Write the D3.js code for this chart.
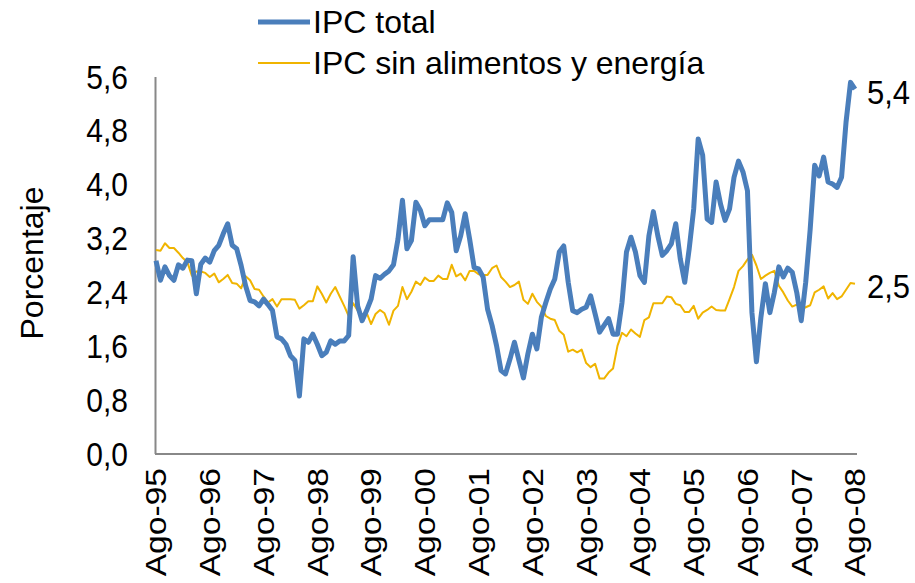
<!DOCTYPE html>
<html><head><meta charset="utf-8">
<script src="https://cdn.jsdelivr.net/npm/d3@7/dist/d3.min.js"></script>
<style>
body{margin:0;background:#fff;}
svg text{font-family:"Liberation Sans",Arial,sans-serif;fill:#000;}
</style></head>
<body>
<svg id="chart" width="915" height="583"></svg>
<script>
// Monthly series, Aug-1995 .. Aug-2008 (157 months)
const ipcTotal = [
2.87,2.58,2.78,2.65,2.58,2.81,2.76,2.88,2.87,2.38,2.82,2.91,
2.85,3.02,3.10,3.27,3.42,3.10,3.05,2.80,2.50,2.28,2.26,2.20,
2.30,2.22,2.13,1.74,1.71,1.63,1.46,1.39,0.86,1.71,1.66,1.78,
1.63,1.46,1.51,1.68,1.63,1.68,1.68,1.76,2.93,2.20,1.98,2.13,
2.30,2.65,2.61,2.67,2.72,2.81,3.19,3.77,3.05,3.17,3.74,3.62,
3.39,3.48,3.48,3.48,3.48,3.73,3.59,3.02,3.24,3.57,3.19,2.77,
2.75,2.63,2.15,1.91,1.61,1.24,1.19,1.41,1.66,1.39,1.13,1.49,
1.78,1.56,2.03,2.25,2.45,2.60,3.00,3.09,2.55,2.13,2.10,2.15,
2.18,2.35,2.08,1.81,1.91,2.01,1.78,1.78,2.25,3.00,3.22,3.00,
2.65,2.55,3.24,3.60,3.24,2.95,3.02,3.12,3.42,2.90,2.55,3.05,
3.64,4.68,4.44,3.49,3.44,4.04,3.71,3.47,3.64,4.11,4.35,4.19,
3.91,2.10,1.37,2.03,2.53,2.10,2.40,2.78,2.63,2.76,2.70,2.40,
1.98,2.55,3.34,4.29,4.13,4.41,4.04,4.01,3.96,4.11,4.93,5.52,
5.42];
const ipcCore = [
3.03,3.02,3.13,3.06,3.06,2.99,2.91,2.85,2.65,2.71,2.71,2.69,
2.63,2.68,2.55,2.60,2.66,2.54,2.53,2.46,2.64,2.58,2.45,2.44,
2.34,2.25,2.30,2.19,2.30,2.30,2.30,2.29,2.16,2.21,2.27,2.27,
2.49,2.38,2.25,2.38,2.48,2.34,2.20,2.05,2.24,2.13,2.02,2.10,
1.93,2.08,2.14,2.09,1.92,2.13,2.20,2.48,2.30,2.41,2.56,2.51,
2.62,2.57,2.57,2.65,2.60,2.60,2.81,2.64,2.68,2.58,2.72,2.72,
2.67,2.66,2.66,2.76,2.80,2.63,2.56,2.48,2.51,2.56,2.29,2.23,
2.38,2.26,2.19,2.05,2.01,1.99,1.83,1.77,1.52,1.55,1.51,1.55,
1.35,1.29,1.34,1.12,1.12,1.21,1.27,1.61,1.80,1.75,1.85,1.79,
1.74,1.99,2.03,2.24,2.24,2.24,2.34,2.33,2.23,2.21,2.11,2.11,
2.20,2.01,2.10,2.14,2.19,2.14,2.13,2.13,2.30,2.48,2.72,2.79,
2.89,2.96,2.80,2.60,2.65,2.69,2.72,2.50,2.40,2.28,2.19,2.22,
2.15,2.18,2.21,2.40,2.44,2.49,2.31,2.39,2.30,2.34,2.44,2.54,
2.53];
const xTickLabels = ["Ago-95","Ago-96","Ago-97","Ago-98","Ago-99","Ago-00","Ago-01","Ago-02","Ago-03","Ago-04","Ago-05","Ago-06","Ago-07","Ago-08"];
const yTicks = [0,0.8,1.6,2.4,3.2,4.0,4.8,5.6];
const seriesNames = ["IPC total","IPC sin alimentos y energía"];
const endLabels = ["5,4","2,5"];

const svg = d3.select("#chart");
const x = d3.scaleLinear().domain([0, ipcTotal.length-1]).range([156, 855]);
const y = d3.scaleLinear().domain([0, 5.6]).range([454, 77]);
const fmt = v => d3.format(".1f")(v).replace(".", ",");

// axes lines
svg.append("line").attr("x1",155.5).attr("x2",155.5).attr("y1",77).attr("y2",454)
  .attr("stroke","#888").attr("stroke-width",2);
svg.append("line").attr("x1",155).attr("x2",857).attr("y1",454).attr("y2",454)
  .attr("stroke","#888").attr("stroke-width",2);

// y tick labels
svg.append("g").selectAll("text").data(yTicks).join("text")
  .attr("transform",d=>`translate(128,${y(d)}) scale(1,1.1)`).attr("text-anchor","end")
  .attr("dominant-baseline","central").attr("font-size",30).text(fmt);

// x tick labels
svg.append("g").selectAll("text").data(xTickLabels).join("text")
  .attr("transform",(d,i)=>`translate(${x(i*12)},468) rotate(-90) scale(1.12,1)`)
  .attr("text-anchor","end").attr("dominant-baseline","central")
  .attr("font-size",30).text(d=>d);

// y axis title
svg.append("text").attr("transform","translate(32,263) rotate(-90)")
  .attr("text-anchor","middle").attr("dominant-baseline","central")
  .attr("font-size",32).text("Porcentaje");

const line = d3.line().x((d,i)=>x(i)).y(d=>y(d));
svg.append("path").datum(ipcCore).attr("d",line).attr("fill","none")
  .attr("stroke","#F0B400").attr("stroke-width",2).attr("stroke-linejoin","round");
svg.append("path").datum(ipcTotal).attr("d",line).attr("fill","none")
  .attr("stroke","#4A7EBB").attr("stroke-width",5).attr("stroke-linejoin","round");

// end labels
svg.append("text").attr("transform","translate(867,92) scale(1,1.1)").attr("dominant-baseline","central")
  .attr("font-size",31).text(endLabels[0]);
svg.append("text").attr("transform","translate(867,286) scale(1,1.1)").attr("dominant-baseline","central")
  .attr("font-size",31).text(endLabels[1]);

// legend
const leg = [{c:"#4A7EBB",w:5,y:22},{c:"#F0B400",w:2,y:63}];
leg.forEach((l,i)=>{
  svg.append("line").attr("x1",258).attr("x2",310).attr("y1",l.y).attr("y2",l.y)
    .attr("stroke",l.c).attr("stroke-width",l.w);
  svg.append("text").attr("x",313).attr("y",l.y).attr("dominant-baseline","central")
    .attr("font-size",32).text(seriesNames[i]);
});
</script>
</body></html>
